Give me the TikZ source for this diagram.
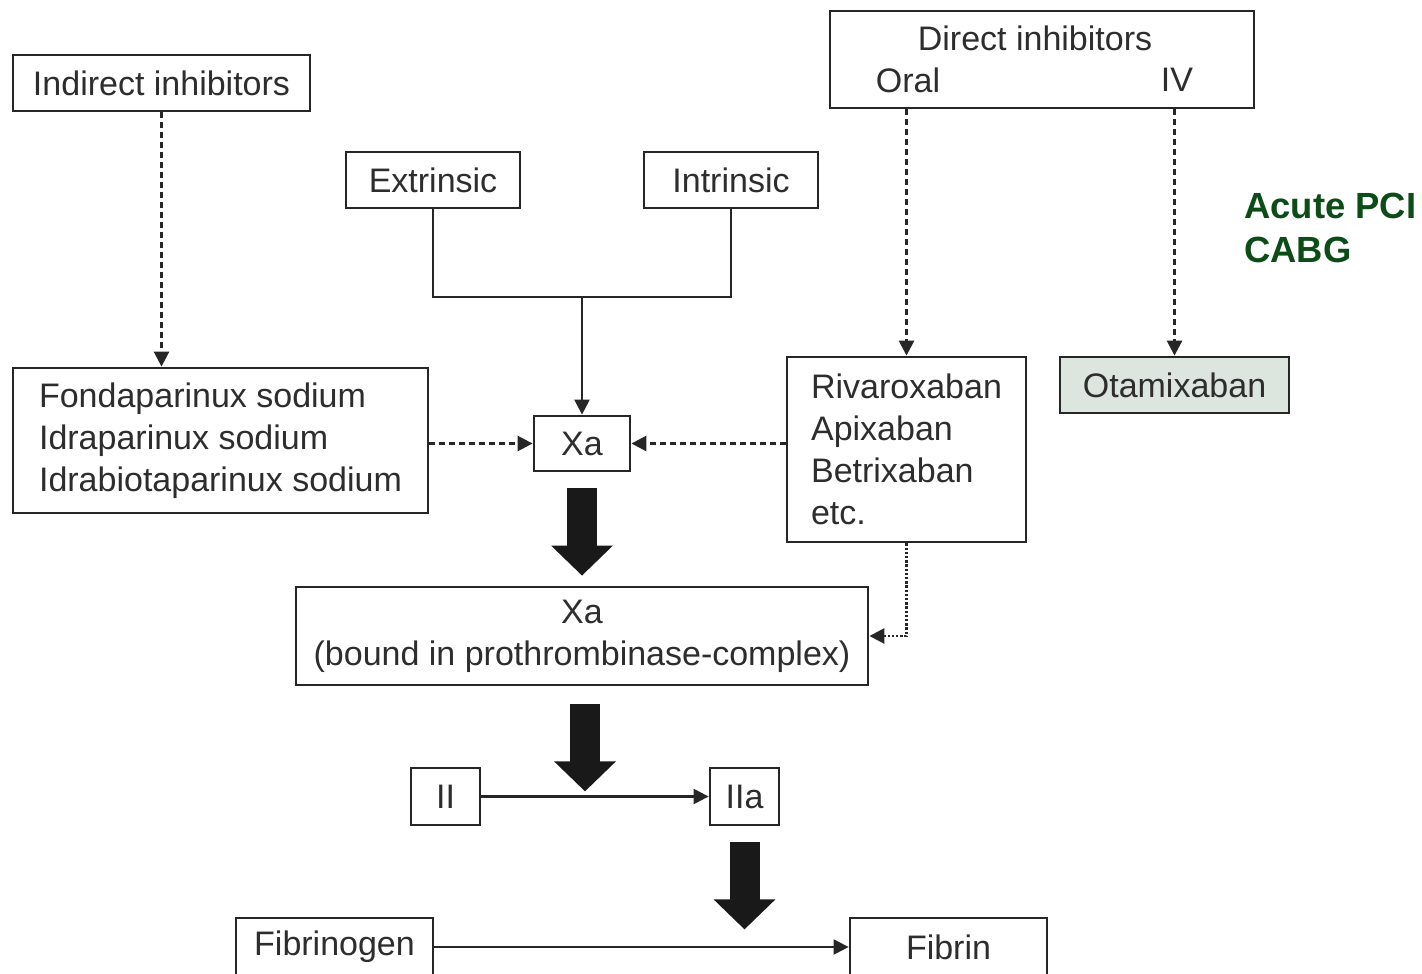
\documentclass[tikz,border=0pt]{standalone}
\usepackage{fontspec}
\setmainfont{Liberation Sans}
\definecolor{boxgrey}{RGB}{221,229,223}
\definecolor{pcigreen}{RGB}{12,76,22}
\definecolor{inkgrey}{RGB}{45,45,45}
\usetikzlibrary{arrows.meta,positioning,calc}

\tikzset{
  box/.style={draw=black!85,line width=1.4pt,text=inkgrey,inner sep=0pt,
              font=\fontsize{17}{21}\selectfont},
  thin/.style={line width=1.1pt,draw=black!85,-{Triangle[length=7.5pt,width=7.5pt]}},
  dashline/.style={thin,line width=1.3pt,dash pattern=on 3pt off 2pt},
  dotline/.style={thin,line width=1.3pt,dash pattern=on 1.2pt off 0.9pt},
  fatarrow/.style={line width=15pt,draw=black!90,-{Triangle[length=15pt,width=30pt]}}
}

\begin{document}
\begin{tikzpicture}[x=0.5pt,y=-0.5pt]
  \clip (0,0) rectangle (1422,973);
  \fill[white] (0,0) rectangle (1422,973);

  % inhibitor boxes at the top
  \node[box,minimum width=148.5pt,minimum height=28pt] (indirect) at (161.5,83) {Indirect inhibitors};
  \node[box,minimum width=212pt,minimum height=48.5pt] (direct) at (1042,59.5) {};
  \node[text=inkgrey,font=\fontsize{17}{21}\selectfont] (dirtitle) at (1035,38) {Direct inhibitors};
  \node[text=inkgrey,font=\fontsize{17}{21}\selectfont] (oral) at (908,80) {Oral};
  \node[text=inkgrey,font=\fontsize{17}{21}\selectfont] (iv) at (1177,80) {IV};

  % pathways
  \node[box,minimum width=87pt,minimum height=28pt] (extrinsic) at (433,180) {Extrinsic};
  \node[box,minimum width=87pt,minimum height=28pt] (intrinsic) at (731,180) {Intrinsic};
  \coordinate (join) at (582,297);
  \node[box,minimum width=48pt,minimum height=27.5pt] (xa) at (582,443.5) {Xa};

  % drugs
  \node[box,minimum width=207.5pt,minimum height=72.5pt,align=left] (fonda) at (220.5,440.5)
    {Fondaparinux sodium\\Idraparinux sodium\\Idrabiotaparinux sodium};
  \node[box,minimum width=119.5pt,minimum height=92.5pt,align=left] (rivaro) at (906.5,449.5)
    {Rivaroxaban\\Apixaban\\Betrixaban\\etc.};
  \node[box,fill=boxgrey,minimum width=114.5pt,minimum height=28pt] (otami) at (1174.5,385) {Otamixaban};
  \node[text=pcigreen,font=\fontsize{18.2}{22}\selectfont\bfseries,align=left,anchor=west,inner sep=0pt] (pci) at (1244,228)
    {Acute PCI\\CABG};

  % cascade
  \node[box,minimum width=286pt,minimum height=49pt,align=center] (complex) at (582,636)
    {Xa\\(bound in prothrombinase-complex)};
  \node[box,minimum width=34.5pt,minimum height=28.5pt] (ii) at (445.5,796.5) {II};
  \node[box,minimum width=34.5pt,minimum height=28.5pt] (iia) at (744.5,796.5) {IIa};
  \node[box,minimum width=98.5pt,minimum height=29pt] (fibrinogen) at (334.5,947) {Fibrinogen};
  \node[box,minimum width=98.5pt,minimum height=29pt] (fibrin) at (948.5,947) {Fibrin};

  % connectors
  \draw[line width=1.2pt,draw=black!85] (extrinsic.south) |- (join) -| (intrinsic.south);
  \draw[thin] (join) -- (xa.north);
  \draw[dashline] (indirect.south) -- (fonda.north -| indirect.south);
  \draw[dashline] (direct.south -| rivaro.north) -- (rivaro.north);
  \draw[dashline] (direct.south -| otami.north) -- (otami.north);
  \draw[dashline] (fonda.east |- xa.west) -- (xa.west);
  \draw[dashline] (rivaro.west |- xa.east) -- (xa.east);
  \draw[dotline] (rivaro.south) |- (complex.east);
  \draw[thin] (ii.east) -- (iia.west);
  \draw[thin] (fibrinogen.east) -- (fibrin.west);

  % thick arrows
  \draw[fatarrow] ($(xa.south)+(0,16)$) -- ($(complex.north)+(0,-10)$);
  \draw[fatarrow] ($(complex.south)+(3,18)$) -- ($(complex.south)+(3,105)$);
  \draw[fatarrow] ($(iia.south)+(0,16)$) -- ($(iia.south)+(0,103)$);
\end{tikzpicture}
\end{document}
